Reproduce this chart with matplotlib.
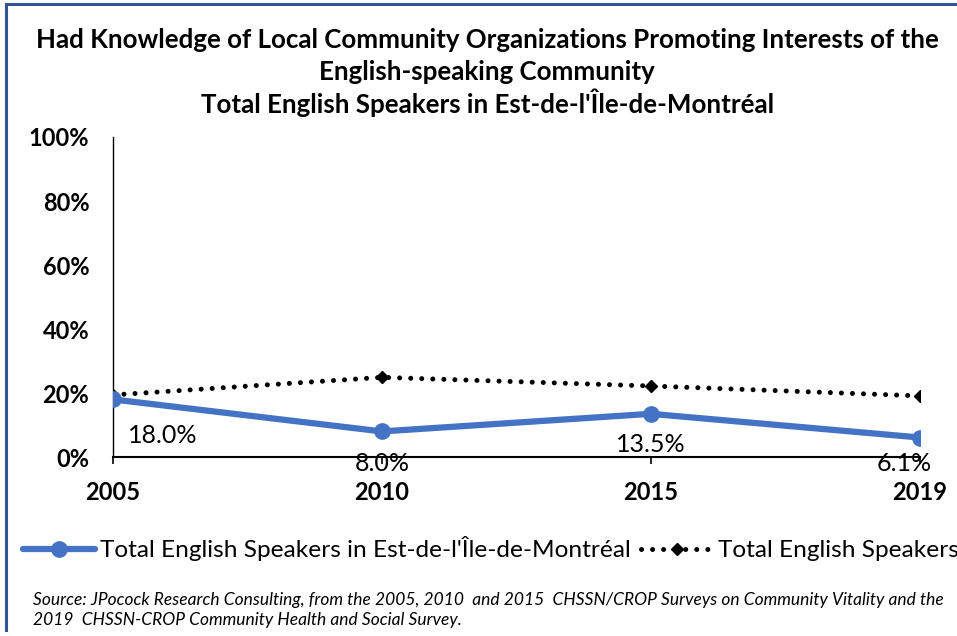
import numpy as np
import matplotlib.pyplot as plt
from matplotlib.lines import Line2D

years = ["2005", "2010", "2015", "2019"]
est_montreal = [18.0, 8.0, 13.5, 6.1]
total_english = [19.4, 24.9, 22.2, 19.1]
y_ticks = [0, 20, 40, 60, 80, 100]
y_tick_labels = ["0%", "20%", "40%", "60%", "80%", "100%"]

title_lines = ["Had Knowledge of Local Community Organizations Promoting Interests of the",
               "English-speaking Community",
               "Total English Speakers in Est-de-l'Île-de-Montréal"]
source = ("Source: JPocock Research Consulting, from the 2005, 2010  and 2015  CHSSN/CROP Surveys on Community Vitality and the\n"
          "2019  CHSSN-CROP Community Health and Social Survey.")

plt.rcParams["font.family"] = ["Lato", "DejaVu Sans"]

blue = "#4472C4"
fig = plt.figure(figsize=(9.57, 6.36), dpi=100)
ax = fig.add_axes([0.118, 0.2814, 0.843, 0.5032])

x = np.arange(len(years))
ax.plot(x, total_english, color="black", linestyle=(0, (0.01, 2.2)), linewidth=3.6,
        dash_capstyle="round", marker="D", markersize=6, zorder=3,
        label="Total English Speakers")
ax.plot(x, est_montreal, color=blue, linewidth=4.5, marker="o", markersize=11,
        solid_capstyle="round", zorder=4,
        label="Total English Speakers in Est-de-l'Île-de-Montréal")

# data labels, placed roughly as in the source chart
offsets = [(36, -26), (0, -23), (0, -22), (-11, -19)]
for xi, v, off in zip(x, est_montreal, offsets):
    ax.annotate(f"{v:.1f}%", (xi, v), xytext=off, textcoords="offset points",
                ha="center", va="center", fontsize=18, zorder=5)

ax.set_xlim(0, len(years) - 1)
ax.set_ylim(0, 100)
ax.set_xticks(x)
ax.set_xticklabels(years, fontsize=17, fontweight="bold")
ax.set_yticks(y_ticks)
ax.set_yticklabels(y_tick_labels, fontsize=17, fontweight="bold")
ax.tick_params(axis="y", length=0, pad=17)
ax.tick_params(axis="x", length=5, width=1.2, direction="out", pad=12)
for s in ["top", "right"]:
    ax.spines[s].set_visible(False)
ax.spines["left"].set_linewidth(1.0)
ax.spines["bottom"].set_linewidth(1.5)

for ty, line in zip([0.937, 0.887, 0.838], title_lines):
    fig.text(0.509, ty, line, ha="center", va="center", fontsize=18.6,
             fontweight="bold")

handles, labels = ax.get_legend_handles_labels()
fig.legend(handles[::-1], labels[::-1], loc="center", bbox_to_anchor=(0.513, 0.137),
           ncol=2, frameon=False, fontsize=17.6, handlelength=2.95,
           handletextpad=0.2, columnspacing=0.4)

fig.text(0.034, 0.041, source, ha="left", va="center", fontsize=12.5,
         style="italic", linespacing=1.25)

# blue frame on the top and left edges
fig.add_artist(Line2D([0.0063, 0.0063], [0.01, 0.994], transform=fig.transFigure,
                      color="#2F5597", linewidth=2.2))
fig.add_artist(Line2D([0.0063, 1.0], [0.994, 0.994], transform=fig.transFigure,
                      color="#2F5597", linewidth=2.2))

fig.savefig("out.png", dpi=100)
